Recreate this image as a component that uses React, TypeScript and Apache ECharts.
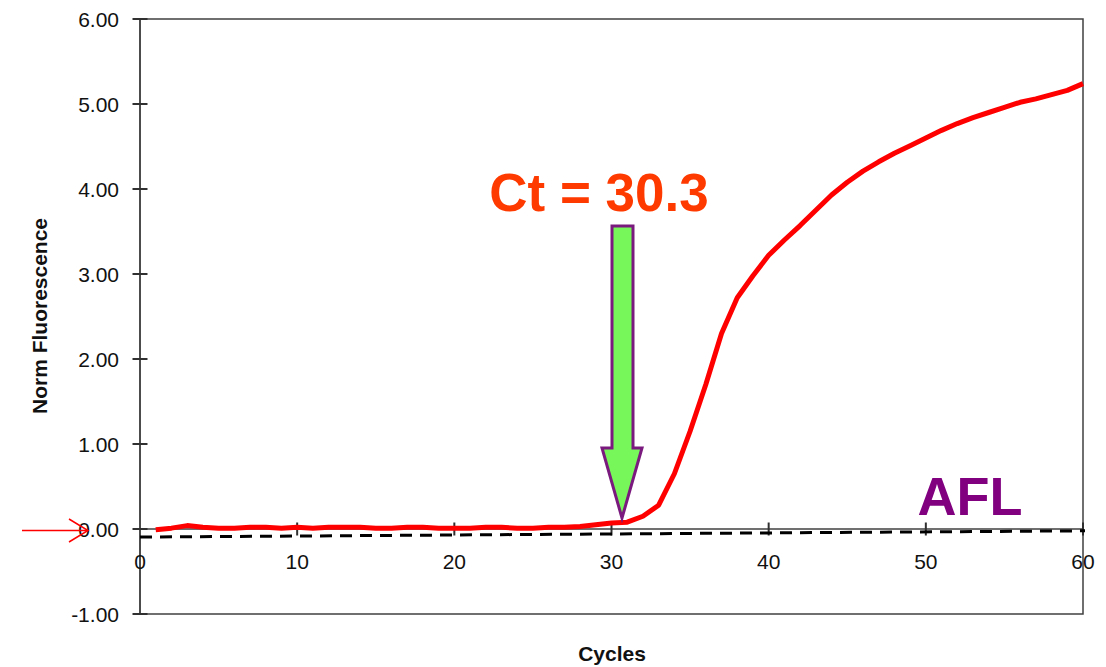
import React, { useEffect, useRef } from "react";
import * as echarts from "echarts";

// Normalised fluorescence per cycle (cycle 1..60)
const normFluorescence = [
  -0.01, 0.01, 0.04, 0.02, 0.01, 0.01, 0.02, 0.02, 0.01, 0.02,
  0.01, 0.02, 0.02, 0.02, 0.01, 0.01, 0.02, 0.02, 0.01, 0.01,
  0.01, 0.02, 0.02, 0.01, 0.01, 0.02, 0.02, 0.03, 0.05, 0.07,
  0.08, 0.15, 0.28, 0.65, 1.15, 1.7, 2.3, 2.72, 2.98, 3.22,
  3.4, 3.57, 3.75, 3.93, 4.08, 4.21, 4.32, 4.42, 4.51, 4.6,
  4.69, 4.77, 4.84, 4.9, 4.96, 5.02, 5.06, 5.11, 5.16, 5.24,
];
const thresholdLine = [
  [0, -0.095],
  [61.2, -0.02],
];
const xTickValues = [10, 20, 30, 40, 50, 60];
const yTickValues = [-1, 0, 1, 2, 3, 4, 5, 6];
const ctLabel = "Ct = 30.3";
const sampleLabel = "AFL";
const xAxisName = "Cycles";
const yAxisName = "Norm Fluorescence";

const FONT = '"Liberation Sans", Arial, sans-serif';

export default function App() {
  const ref = useRef<HTMLDivElement>(null);
  useEffect(() => {
    const chart = echarts.init(ref.current!, null, { renderer: "svg" });
    chart.setOption({
      animation: false,
      backgroundColor: "#ffffff",
      textStyle: { fontFamily: FONT },
      grid: [
        {
          left: 140,
          right: 23,
          top: 19,
          bottom: 53,
          show: true,
          borderColor: "#404040",
          borderWidth: 1.5,
          backgroundColor: "transparent",
        },
        // upper part of the plot (6 .. 0): its bottom edge is the zero line, carrying the x labels
        { left: 140, right: 23, top: 19, bottom: 138, show: false },
      ],
      xAxis: [
        {
          type: "value",
          gridIndex: 0,
          min: 0,
          max: 60,
          interval: 10,
          axisLine: { onZero: true, lineStyle: { color: "#404040", width: 1.5 } },
          axisTick: { show: false },
          splitLine: { show: false },
          axisLabel: { show: false },
        },
        {
          type: "value",
          gridIndex: 1,
          min: 0,
          max: 60,
          interval: 10,
          axisLine: { show: false, onZero: false },
          axisTick: { show: false },
          splitLine: { show: false },
          axisLabel: { color: "#111", fontSize: 21, margin: 22, fontFamily: FONT },
        },
      ],
      yAxis: [
        {
          type: "value",
          gridIndex: 0,
          min: -1,
          max: 6,
          interval: 1,
          axisLine: { show: true, lineStyle: { color: "#404040", width: 1.5 } },
          axisTick: { show: false },
          splitLine: { show: false },
          axisLabel: {
            color: "#111",
            fontSize: 21,
            margin: 21,
            fontFamily: FONT,
            formatter: (v: number) => v.toFixed(2),
          },
        },
        {
          type: "value",
          gridIndex: 1,
          min: 0,
          max: 6,
          show: false,
        },
      ],
      series: [
        {
          type: "scatter",
          data: xTickValues.map((v) => [v, 0]),
          symbol: "rect",
          symbolSize: [2, 13],
          itemStyle: { color: "#303030", opacity: 1 },
          clip: false,
          silent: true,
          z: 1,
        },
        {
          type: "scatter",
          data: yTickValues.map((v) => [0, v]),
          symbol: "rect",
          symbolSize: [15, 2],
          itemStyle: { color: "#303030", opacity: 1 },
          clip: false,
          silent: true,
          z: 1,
        },
        {
          type: "line",
          data: thresholdLine,
          showSymbol: false,
          clip: false,
          lineStyle: { color: "#000", width: 3, type: [12, 8] },
          z: 2,
        },
        {
          type: "line",
          data: normFluorescence.map((v, i) => [i + 1, v]),
          showSymbol: false,
          lineStyle: { color: "#ff0000", width: 5 },
          z: 3,
        },
      ],
      graphic: [
        {
          type: "polygon",
          z: 10,
          shape: {
            points: [
              [612, 226],
              [633, 226],
              [633, 448],
              [642, 448],
              [622, 518],
              [602, 448],
              [612, 448],
            ],
          },
          style: { fill: "#77f75a", stroke: "#7a1a7e", lineWidth: 3 },
        },
        {
          type: "text",
          z: 10,
          x: 599,
          y: 192,
          style: {
            text: ctLabel,
            fill: "#ff3a00",
            fontSize: 53,
            fontWeight: "bold",
            fontFamily: FONT,
            align: "center",
            verticalAlign: "middle",
          },
        },
        {
          type: "text",
          z: 10,
          x: 970,
          y: 496,
          style: {
            text: sampleLabel,
            fill: "#800080",
            fontSize: 54,
            fontWeight: "bold",
            fontFamily: FONT,
            align: "center",
            verticalAlign: "middle",
          },
        },
        {
          type: "text",
          z: 10,
          x: 612,
          y: 653,
          style: {
            text: xAxisName,
            fill: "#111",
            fontSize: 21,
            fontWeight: "bold",
            fontFamily: FONT,
            align: "center",
            verticalAlign: "middle",
          },
        },
        {
          type: "text",
          z: 10,
          x: 39,
          y: 316,
          rotation: Math.PI / 2,
          style: {
            text: yAxisName,
            fill: "#111",
            fontSize: 21,
            fontWeight: "bold",
            fontFamily: FONT,
            align: "center",
            verticalAlign: "middle",
          },
        },
        {
          type: "line",
          z: 20,
          shape: { x1: 22, y1: 530.5, x2: 88, y2: 530.5 },
          style: { stroke: "#ff0000", lineWidth: 1.5 },
        },
        {
          type: "polyline",
          z: 20,
          shape: {
            points: [
              [69, 519],
              [88, 530.5],
              [69, 542],
            ],
          },
          style: { stroke: "#ff0000", lineWidth: 1.5, fill: "none" },
        },
      ],
    });
    return () => chart.dispose();
  }, []);
  return (
    <div
      ref={ref}
      style={{ position: "fixed", left: 0, top: 0, width: 1106, height: 667, background: "#fff" }}
    />
  );
}
